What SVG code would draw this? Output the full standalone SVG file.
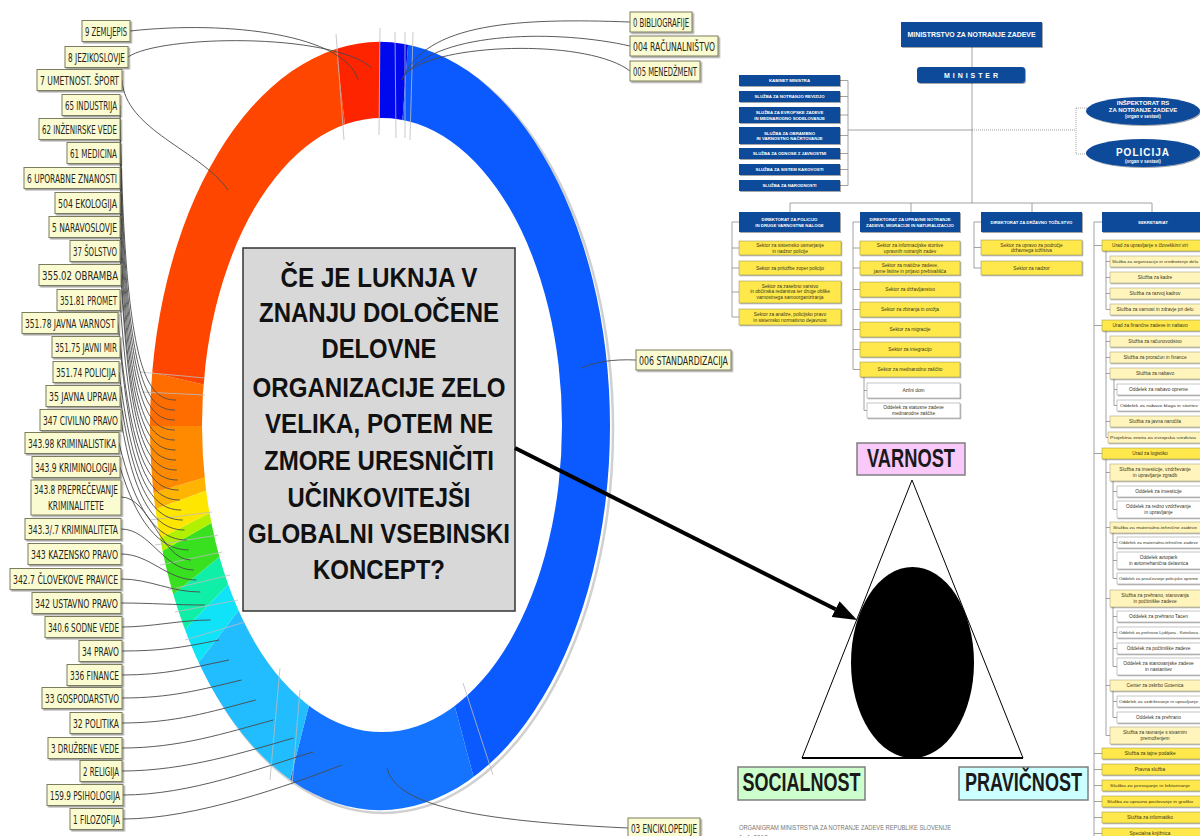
<svg xmlns="http://www.w3.org/2000/svg" width="1200" height="836" viewBox="0 0 1200 836">
<defs>
<style>
.lb rect{fill:#FBFBD2;stroke:#7C7C5E;stroke-width:1;filter:url(#sh)}
.lb text{font-family:"Liberation Sans Narrow","DejaVu Sans Condensed","Liberation Sans",sans-serif;font-size:13px;fill:#26261A}
.cn path{fill:none;stroke:#4A4A4A;stroke-width:0.9}
.cn path.lt{stroke:#BDBDBD;stroke-width:0.8}
.q text{font-family:"Liberation Sans",Arial,sans-serif;font-weight:bold;font-size:27px;fill:#111;text-anchor:middle}
.bb{fill:#0F4B9A;filter:url(#sh2)}
.bt{font-family:"Liberation Sans",Arial,sans-serif;font-weight:bold;font-size:4.3px;fill:#fff;text-anchor:middle}
.yb{fill:#FFE84C;stroke:#8F8A4E;stroke-width:0.5;filter:url(#sh2)}
.ly{fill:#FFF5BC;stroke:#9A9676;stroke-width:0.5;filter:url(#sh2)}
.wb{fill:#fff;stroke:#8A8A8A;stroke-width:0.5;filter:url(#sh2)}
.ot{font-family:"Liberation Sans",Arial,sans-serif;font-size:4.8px;fill:#3A3520;text-anchor:middle}
.ot.os{text-anchor:start}
.ot.sm{font-size:4.2px}
.ol{fill:none;stroke:#8C8C8C;stroke-width:0.8}
.dt{fill:none;stroke:#8C8C8C;stroke-width:0.8;stroke-dasharray:1 1}
.big{font-family:"Liberation Sans",Arial,sans-serif;font-weight:bold;font-size:25px;fill:#1A1A1A;text-anchor:middle}
.tag rect{stroke:#7F7F7F;stroke-width:1.5}
</style>
<filter id="sh" x="-10%" y="-20%" width="130%" height="160%"><feDropShadow dx="1.5" dy="1.5" stdDeviation="0.7" flood-color="#000" flood-opacity="0.35"/></filter>
<filter id="sh2" x="-10%" y="-20%" width="130%" height="160%"><feDropShadow dx="1" dy="1" stdDeviation="0.5" flood-color="#000" flood-opacity="0.35"/></filter>
<clipPath id="ringclip"><path clip-rule="evenodd" d="M150,426 A230,384 0 1,0 610,426 A230,384 0 1,0 150,426 Z M202,425 A180,307 0 1,0 562,425 A180,307 0 1,0 202,425 Z"/></clipPath>
<marker id="ah" markerWidth="6" markerHeight="4.4" refX="0" refY="2.2" orient="auto" markerUnits="strokeWidth"><path d="M0,0 L6,2.2 L0,4.4 Z" fill="#000"/></marker>
</defs>
<rect width="1200" height="836" fill="#fff"/>

<!-- ring -->
<g id="ring">
<ellipse cx="383" cy="429" rx="230" ry="384" fill="none" stroke="#D0D0D0" stroke-width="2.5"/>
<g clip-path="url(#ringclip)">
<polygon fill="#0008EE" points="380,426 380,-150 422,-145.7"/>
<polygon fill="#0A5AFF" points="380,426 422,-145.7 624,18.7 725,426 624,833.3 520.3,952.2"/>
<polygon fill="#1574FF" points="380,426 520.3,952.2 380,1002 245.2,956.2"/>
<polygon fill="#22BDFF" points="380,426 245.2,956.2 108.1,780.6"/>
<polygon fill="#10E2F8" points="380,426 108.1,780.6 87.4,731.2"/>
<polygon fill="#10EFA8" points="380,426 87.4,731.2 69.9,678.5"/>
<polygon fill="#38E020" points="380,426 69.9,678.5 53.8,613.5"/>
<polygon fill="#B0F000" points="380,426 53.8,613.5 50.1,594.4"/>
<polygon fill="#FFE600" points="380,426 50.1,594.4 43.2,550.6"/>
<polygon fill="#FFB400" points="380,426 43.2,550.6 40.2,526"/>
<polygon fill="#FF8A00" points="380,426 40.2,526 35,426"/>
<polygon fill="#FF6C00" points="380,426 35,426 38.4,345.8"/>
<polygon fill="#FF4600" points="380,426 38.4,345.8 136,18.7 314.2,-139.4"/>
<polygon fill="#FF2400" points="380,426 314.2,-139.4 380,-150"/>
</g>
</g>

<!-- connectors -->
<g id="connectors" class="cn">
<path class="lt" d="M336,34 L344,140"/>
<path class="lt" d="M380,28 L379,135"/>
<path class="lt" d="M395,32 L396,138"/>
<path class="lt" d="M405,32 L405,138"/>
<path class="lt" d="M413,32 L410,140"/>
<path class="lt" d="M280,668 L270,780"/>
<path class="lt" d="M300,690 L292,785"/>
<path class="lt" d="M463,683 L493,775"/>
<path class="lt" d="M140,372 L205,378"/>
<path class="lt" d="M142,392 L205,395"/>
<path class="lt" d="M150,520 L212,512"/>
<path class="lt" d="M155,545 L218,535"/>
<path class="lt" d="M160,565 L222,552"/>
<path class="lt" d="M168,590 L230,575"/>
<path class="lt" d="M175,612 L238,600"/>
<path class="lt" d="M185,640 L245,622"/>
<path d="M130,31 C230,20 345,35 358,80"/>
<path d="M128,57 C160,35 330,32 372,68"/>
<path d="M122,80 C125,130 200,150 228,190"/>
<path d="M120,105 C124,370 146,400 176,400"/>
<path d="M120,129 C124.8,380 145,410 175,410"/>
<path d="M120,153 C125.6,390 145,420 175,420"/>
<path d="M120,178 C126.4,400 145,430 175,430"/>
<path d="M120,203 C127.2,410 145,440 175,440"/>
<path d="M120,227 C128,420 145.5,450 175.5,450"/>
<path d="M120,251 C128.8,430 146,460 176,460"/>
<path d="M121,275 C129.6,440 146.7,470 176.7,470"/>
<path d="M120,300 C130.4,450 147.6,480 177.6,480"/>
<path d="M118,323 C131.2,460 148.6,490 178.6,490"/>
<path d="M120,347 C132,470 149.8,500 179.8,500"/>
<path d="M119,372 C132.8,480 151.2,510 181.2,510"/>
<path d="M120,396 C133.6,490 152.8,520 182.8,520"/>
<path d="M121,420 C134.4,500 154.5,530 184.5,530"/>
<path d="M119,443 C135.2,510 156.5,540 186.5,540"/>
<path d="M120,467 C136,520 158.7,550 188.7,550"/>
<path d="M121,497 C150,497 161,560 191,560"/>
<path d="M121,529 C150,529 163.7,570 193.7,570"/>
<path d="M121,554 C150,554 166.5,580 196.5,580"/>
<path d="M121,579 C150,579 170.3,592 200.3,592"/>
<path d="M121,603 C150,603 174.8,605 204.8,605"/>
<path d="M122,627 C151,627 180.6,620 210.6,620"/>
<path d="M122,651 C160,651 180,648 219,640"/>
<path d="M122,675 C165,675 190,668 229,660"/>
<path d="M122,698 C170,698 200,690 241.5,680"/>
<path d="M122,723 C175,723 210,712 255.8,700"/>
<path d="M122,748 C180,748 225,733 273.3,720"/>
<path d="M122,771 C185,771 245,752 293.5,738"/>
<path d="M123,795 C190,795 260,768 313,752"/>
<path d="M123,819 C195,819 290,785 342,765"/>
<path d="M630,22 C520,18 425,22 402,80"/>
<path d="M630,46 C560,30 440,30 405,75"/>
<path d="M630,71 C590,40 450,42 410,70"/>
<path d="M636,360 C612,359 595,362 582,368"/>
<path d="M387,768 C395,800 450,820 628,828"/>
</g>

<!-- left labels -->
<g id="lab-0" class="lb"><rect x="82" y="20.5" width="48" height="21"/><text x="85" y="35.5" textLength="42" lengthAdjust="spacingAndGlyphs">9 ZEMLJEPIS</text></g>
<g id="lab-1" class="lb"><rect x="65" y="46.5" width="63" height="21"/><text x="68" y="61.5" textLength="57" lengthAdjust="spacingAndGlyphs">8 JEZIKOSLOVJE</text></g>
<g id="lab-2" class="lb"><rect x="37" y="69.5" width="85" height="21"/><text x="40" y="84.5" textLength="79" lengthAdjust="spacingAndGlyphs">7 UMETNOST. ŠPORT</text></g>
<g id="lab-3" class="lb"><rect x="62" y="94.5" width="58" height="21"/><text x="65" y="109.5" textLength="52" lengthAdjust="spacingAndGlyphs">65 INDUSTRIJA</text></g>
<g id="lab-4" class="lb"><rect x="39" y="118.5" width="81" height="21"/><text x="42" y="133.5" textLength="75" lengthAdjust="spacingAndGlyphs">62 INŽENIRSKE VEDE</text></g>
<g id="lab-5" class="lb"><rect x="67" y="142.5" width="53" height="21"/><text x="70" y="157.5" textLength="47" lengthAdjust="spacingAndGlyphs">61 MEDICINA</text></g>
<g id="lab-6" class="lb"><rect x="24" y="167.5" width="96" height="21"/><text x="27" y="182.5" textLength="90" lengthAdjust="spacingAndGlyphs">6 UPORABNE ZNANOSTI</text></g>
<g id="lab-7" class="lb"><rect x="55" y="192.5" width="65" height="21"/><text x="58" y="207.5" textLength="59" lengthAdjust="spacingAndGlyphs">504 EKOLOGIJA</text></g>
<g id="lab-8" class="lb"><rect x="49" y="216.5" width="71" height="21"/><text x="52" y="231.5" textLength="65" lengthAdjust="spacingAndGlyphs">5 NARAVOSLOVJE</text></g>
<g id="lab-9" class="lb"><rect x="70" y="240.5" width="50" height="21"/><text x="73" y="255.5" textLength="44" lengthAdjust="spacingAndGlyphs">37 ŠOLSTVO</text></g>
<g id="lab-10" class="lb"><rect x="39" y="264.5" width="82" height="21"/><text x="42" y="279.5" textLength="76" lengthAdjust="spacingAndGlyphs">355.02 OBRAMBA</text></g>
<g id="lab-11" class="lb"><rect x="57" y="289.5" width="63" height="21"/><text x="60" y="304.5" textLength="57" lengthAdjust="spacingAndGlyphs">351.81 PROMET</text></g>
<g id="lab-12" class="lb"><rect x="22" y="312.5" width="96" height="21"/><text x="25" y="327.5" textLength="90" lengthAdjust="spacingAndGlyphs">351.78 JAVNA VARNOST</text></g>
<g id="lab-13" class="lb"><rect x="52" y="336.5" width="68" height="21"/><text x="55" y="351.5" textLength="62" lengthAdjust="spacingAndGlyphs">351.75 JAVNI MIR</text></g>
<g id="lab-14" class="lb"><rect x="53" y="361.5" width="66" height="21"/><text x="56" y="376.5" textLength="60" lengthAdjust="spacingAndGlyphs">351.74 POLICIJA</text></g>
<g id="lab-15" class="lb"><rect x="46" y="385.5" width="74" height="21"/><text x="49" y="400.5" textLength="68" lengthAdjust="spacingAndGlyphs">35 JAVNA UPRAVA</text></g>
<g id="lab-16" class="lb"><rect x="40" y="409.5" width="81" height="21"/><text x="43" y="424.5" textLength="75" lengthAdjust="spacingAndGlyphs">347 CIVILNO PRAVO</text></g>
<g id="lab-17" class="lb"><rect x="25" y="432.5" width="94" height="21"/><text x="28" y="447.5" textLength="88" lengthAdjust="spacingAndGlyphs">343.98 KRIMINALISTIKA</text></g>
<g id="lab-18" class="lb"><rect x="32" y="456.5" width="88" height="21"/><text x="35" y="471.5" textLength="82" lengthAdjust="spacingAndGlyphs">343.9 KRIMINOLOGIJA</text></g>
<g id="lab-19" class="lb"><rect x="31" y="480" width="90" height="35"/><text x="76" y="494" text-anchor="middle" textLength="84" lengthAdjust="spacingAndGlyphs">343.8 PREPREČEVANJE</text><text x="76" y="510" text-anchor="middle" textLength="56" lengthAdjust="spacingAndGlyphs">KRIMINALITETE</text></g>
<g id="lab-20" class="lb"><rect x="25" y="518.5" width="96" height="21"/><text x="28" y="533.5" textLength="90" lengthAdjust="spacingAndGlyphs">343.3/.7 KRIMINALITETA</text></g>
<g id="lab-21" class="lb"><rect x="28" y="543.5" width="93" height="21"/><text x="31" y="558.5" textLength="87" lengthAdjust="spacingAndGlyphs">343 KAZENSKO PRAVO</text></g>
<g id="lab-22" class="lb"><rect x="10" y="568.5" width="111" height="21"/><text x="13" y="583.5" textLength="105" lengthAdjust="spacingAndGlyphs">342.7 ČLOVEKOVE PRAVICE</text></g>
<g id="lab-23" class="lb"><rect x="32" y="592.5" width="89" height="21"/><text x="35" y="607.5" textLength="83" lengthAdjust="spacingAndGlyphs">342 USTAVNO PRAVO</text></g>
<g id="lab-24" class="lb"><rect x="45" y="616.5" width="77" height="21"/><text x="48" y="631.5" textLength="71" lengthAdjust="spacingAndGlyphs">340.6 SODNE VEDE</text></g>
<g id="lab-25" class="lb"><rect x="79" y="640.5" width="43" height="21"/><text x="82" y="655.5" textLength="37" lengthAdjust="spacingAndGlyphs">34 PRAVO</text></g>
<g id="lab-26" class="lb"><rect x="67" y="664.5" width="55" height="21"/><text x="70" y="679.5" textLength="49" lengthAdjust="spacingAndGlyphs">336 FINANCE</text></g>
<g id="lab-27" class="lb"><rect x="42" y="687.5" width="80" height="21"/><text x="45" y="702.5" textLength="74" lengthAdjust="spacingAndGlyphs">33 GOSPODARSTVO</text></g>
<g id="lab-28" class="lb"><rect x="70" y="712.5" width="52" height="21"/><text x="73" y="727.5" textLength="46" lengthAdjust="spacingAndGlyphs">32 POLITIKA</text></g>
<g id="lab-29" class="lb"><rect x="48" y="737.5" width="74" height="21"/><text x="51" y="752.5" textLength="68" lengthAdjust="spacingAndGlyphs">3 DRUŽBENE VEDE</text></g>
<g id="lab-30" class="lb"><rect x="80" y="760.5" width="42" height="21"/><text x="83" y="775.5" textLength="36" lengthAdjust="spacingAndGlyphs">2 RELIGIJA</text></g>
<g id="lab-31" class="lb"><rect x="47" y="784.5" width="76" height="21"/><text x="50" y="799.5" textLength="70" lengthAdjust="spacingAndGlyphs">159.9 PSIHOLOGIJA</text></g>
<g id="lab-32" class="lb"><rect x="70" y="808.5" width="53" height="21"/><text x="73" y="823.5" textLength="47" lengthAdjust="spacingAndGlyphs">1 FILOZOFIJA</text></g>

<!-- right labels -->
<g id="lab-r0" class="lb"><rect x="630" y="12" width="62" height="20"/><text x="633" y="26.5" textLength="56" lengthAdjust="spacingAndGlyphs">0 BIBLIOGRAFIJE</text></g>
<g id="lab-r1" class="lb"><rect x="630" y="36" width="88" height="20"/><text x="633" y="50.5" textLength="82" lengthAdjust="spacingAndGlyphs">004 RAČUNALNIŠTVO</text></g>
<g id="lab-r2" class="lb"><rect x="630" y="61" width="70" height="20"/><text x="633" y="75.5" textLength="64" lengthAdjust="spacingAndGlyphs">005 MENEDŽMENT</text></g>
<g id="lab-r3" class="lb"><rect x="636" y="350" width="95" height="20"/><text x="639" y="364.5" textLength="89" lengthAdjust="spacingAndGlyphs">006 STANDARDIZACIJA</text></g>
<g id="lab-r4" class="lb"><rect x="628" y="818" width="72" height="20"/><text x="631" y="832.5" textLength="66" lengthAdjust="spacingAndGlyphs">03 ENCIKLOPEDIJE</text></g>

<!-- question box -->
<g id="question" class="q">
<rect x="243" y="248" width="272" height="363" fill="#D8D8D8" stroke="#333" stroke-width="1.5"/>
<text x="379" y="287" textLength="197" lengthAdjust="spacingAndGlyphs">ČE JE LUKNJA V</text>
<text x="379" y="322" textLength="240" lengthAdjust="spacingAndGlyphs">ZNANJU DOLOČENE</text>
<text x="379" y="358" textLength="115" lengthAdjust="spacingAndGlyphs">DELOVNE</text>
<text x="379" y="397" textLength="253" lengthAdjust="spacingAndGlyphs">ORGANIZACIJE ZELO</text>
<text x="379" y="433" textLength="228" lengthAdjust="spacingAndGlyphs">VELIKA, POTEM NE</text>
<text x="379" y="470" textLength="230" lengthAdjust="spacingAndGlyphs">ZMORE URESNIČITI</text>
<text x="379" y="507" textLength="183" lengthAdjust="spacingAndGlyphs">UČINKOVITEJŠI</text>
<text x="379" y="543" textLength="262" lengthAdjust="spacingAndGlyphs">GLOBALNI VSEBINSKI</text>
<text x="379" y="579" textLength="132" lengthAdjust="spacingAndGlyphs">KONCEPT?</text>
</g>

<!-- org chart connectors -->
<g id="org-connectors">
<path class="ol" d="M972,47 V67 M972,83 V203 M790,203 H1152 M790,203 V212 M911,203 V212 M1032,203 V212 M1152,203 V212"/>
<path class="ol" d="M848,80.5 V185.5 M840,80.5 H848 M840,96.5 H848 M840,115 H848 M840,135.5 H848 M840,153.5 H848 M840,169.5 H848 M840,185.5 H848 M848,130 H972"/>
<path class="dt" d="M972,130 H1076 M1076,108 V154 M1076,108 H1088 M1076,154 H1088"/>
<path class="ol" d="M732,222 V317 M732,222 H739 M732,248 H739 M732,268 H739 M732,292 H739 M732,317 H739"/>
<path class="ol" d="M853,222 V369.5 M853,222 H860 M853,248 H860 M853,268 H860 M853,289.5 H860 M853,309.5 H860 M853,329.5 H860 M853,349.5 H860 M853,369.5 H860 M864,377 V410.5 M864,390.5 H867 M864,410.5 H867"/>
<path class="ol" d="M974,222 V268 M974,222 H981 M974,247.5 H981 M974,268 H981"/>
<path class="ol" d="M1094,222 V836 M1094,222 H1102 M1094,245.5 H1102 M1094,325.5 H1102 M1094,453.5 H1102 M1094,753.5 H1102 M1094,769.5 H1102 M1094,785.5 H1102 M1094,801.5 H1102 M1094,817.5 H1102 M1094,833.5 H1102"/>
<path class="ol" d="M1106,251 V309.5 M1106,261.5 H1110 M1106,277.5 H1110 M1106,293.5 H1110 M1106,309.5 H1110"/>
<path class="ol" d="M1106,331 V437.5 M1106,341.5 H1110 M1106,357.5 H1110 M1106,373.5 H1110 M1106,421.5 H1110 M1106,437.5 H1108 M1114,379 V405.5 M1114,389.5 H1117 M1114,405.5 H1117"/>
<path class="ol" d="M1106,459 V735.5 M1106,472.5 H1110 M1106,527.5 H1110 M1106,598.5 H1110 M1106,685.5 H1110 M1106,735.5 H1110 M1113,481 V509.5 M1113,491.5 H1117 M1113,509.5 H1117 M1113,533 V578.5 M1113,542.5 H1117 M1113,560.5 H1117 M1113,578.5 H1117 M1113,607 V666.5 M1113,616.5 H1117 M1113,632.5 H1117 M1113,648.5 H1117 M1113,666.5 H1117 M1113,691 V717.5 M1113,701.5 H1117 M1113,717.5 H1117"/>
</g>

<!-- org top -->
<g id="org-ministrstvo"><rect class="bb" x="901" y="22" width="141" height="25"/><text class="bt" x="971.5" y="37" style="font-size:6.5px" textLength="128" lengthAdjust="spacingAndGlyphs">MINISTRSTVO ZA NOTRANJE ZADEVE</text></g>
<g id="org-minister"><rect class="bb" x="917" y="67" width="108" height="16" rx="3"/><text class="bt" x="971" y="78" style="font-size:7px" textLength="54" lengthAdjust="spacing">MINISTER</text></g>
<g id="org-kabinet"><rect class="bb" x="739" y="75" width="101" height="11"/><text class="bt" x="789.5" y="82">KABINET MINISTRA</text></g>
<g id="org-revizija"><rect class="bb" x="739" y="91" width="101" height="11"/><text class="bt" x="789.5" y="98">SLUŽBA ZA NOTRANJO REVIZIJO</text></g>
<g id="org-evropske"><rect class="bb" x="739" y="107" width="101" height="16"/><text class="bt" x="789.5" y="114">SLUŽBA ZA EVROPSKE ZADEVE</text><text class="bt" x="789.5" y="119.5">IN MEDNARODNO SODELOVANJE</text></g>
<g id="org-obrambno"><rect class="bb" x="739" y="127" width="101" height="17"/><text class="bt" x="789.5" y="134.5">SLUŽBA ZA OBRAMBNO</text><text class="bt" x="789.5" y="140">IN VARNOSTNO NAČRTOVANJE</text></g>
<g id="org-odnosi"><rect class="bb" x="739" y="148" width="101" height="11"/><text class="bt" x="789.5" y="155">SLUŽBA ZA ODNOSE Z JAVNOSTMI</text></g>
<g id="org-kakovost"><rect class="bb" x="739" y="164" width="101" height="11"/><text class="bt" x="789.5" y="171">SLUŽBA ZA SISTEM KAKOVOSTI</text></g>
<g id="org-narodnosti"><rect class="bb" x="739" y="180" width="101" height="11"/><text class="bt" x="789.5" y="187">SLUŽBA ZA NARODNOSTI</text></g>
<g id="org-inspektorat"><ellipse class="bb" cx="1143" cy="111" rx="57" ry="14"/><text class="bt" x="1143" y="105" style="font-size:6px">INŠPEKTORAT RS</text><text class="bt" x="1143" y="111.5" style="font-size:6px">ZA NOTRANJE ZADEVE</text><text class="bt" x="1143" y="117.5" style="font-size:4.5px">(organ v sestavi)</text></g>
<g id="org-policija"><ellipse class="bb" cx="1143" cy="153" rx="57" ry="14"/><text class="bt" x="1143" y="155.5" style="font-size:10px;letter-spacing:1px">POLICIJA</text><text class="bt" x="1143" y="163" style="font-size:4.5px">(organ v sestavi)</text></g>

<!-- directorates -->
<g id="org-d1"><rect class="bb" x="739" y="212" width="101" height="20"/><text class="bt" x="789.5" y="220.5">DIREKTORAT ZA POLICIJO</text><text class="bt" x="789.5" y="226.5">IN DRUGE VARNOSTNE NALOGE</text></g>
<g id="org-d2"><rect class="bb" x="860" y="212" width="100" height="20"/><text class="bt" x="910" y="220.5">DIREKTORAT ZA UPRAVNE NOTRANJE</text><text class="bt" x="910" y="226.5">ZADEVE, MIGRACIJE IN NATURALIZACIJO</text></g>
<g id="org-d3"><rect class="bb" x="981" y="212" width="101" height="20"/><text class="bt" x="1031.5" y="223.5">DIREKTORAT ZA DRŽAVNO TOŽILSTVO</text></g>
<g id="org-sekretariat"><rect class="bb" x="1102" y="212" width="102" height="20"/><text class="bt" x="1153" y="223.5">SEKRETARIAT</text></g>

<!-- column 1 -->
<g id="org-c1-1"><rect class="yb" x="739" y="241" width="102" height="14"/><text class="ot" x="790" y="247">Sektor za sistemsko usmerjanje</text><text class="ot" x="790" y="252.5">in nadzor policije</text></g>
<g id="org-c1-2"><rect class="yb" x="739" y="261" width="102" height="14"/><text class="ot" x="790" y="269.5">Sektor za pritožbe zoper policijo</text></g>
<g id="org-c1-3"><rect class="yb" x="739" y="281" width="102" height="22"/><text class="ot" x="790" y="287.5">Sektor za zasebno varstvo</text><text class="ot" x="790" y="293">in občinska redarstva ter druge oblike</text><text class="ot" x="790" y="298.5">varnostnega samoorganiziranja</text></g>
<g id="org-c1-4"><rect class="yb" x="739" y="309" width="102" height="16"/><text class="ot" x="790" y="316">Sektor za analize, policijsko pravo</text><text class="ot" x="790" y="321.5">in sistemsko normativno dejavnost</text></g>

<!-- column 2 -->
<g id="org-c2-1"><rect class="yb" x="860" y="241" width="100" height="14"/><text class="ot" x="910" y="247">Sektor za informacijske storitve</text><text class="ot" x="910" y="252.5">upravnih notranjih zadev</text></g>
<g id="org-c2-2"><rect class="yb" x="860" y="261" width="100" height="14"/><text class="ot" x="910" y="267">Sektor za matične zadeve,</text><text class="ot" x="910" y="272.5">javne listine in prijavo prebivališča</text></g>
<g id="org-c2-3"><rect class="yb" x="860" y="282" width="100" height="15"/><text class="ot" x="910" y="291">Sektor za državljanstvo</text></g>
<g id="org-c2-4"><rect class="yb" x="860" y="302" width="100" height="15"/><text class="ot" x="910" y="311">Sektor za zbiranja in orožja</text></g>
<g id="org-c2-5"><rect class="yb" x="860" y="322" width="100" height="15"/><text class="ot" x="910" y="331">Sektor za migracije</text></g>
<g id="org-c2-6"><rect class="yb" x="860" y="342" width="100" height="15"/><text class="ot" x="910" y="351">Sektor za integracijo</text></g>
<g id="org-c2-7"><rect class="yb" x="860" y="362" width="100" height="15"/><text class="ot" x="910" y="371">Sektor za mednarodno zaščito</text></g>
<g id="org-c2-8"><rect class="wb" x="867" y="383" width="93" height="15"/><text class="ot" x="913.5" y="392">Azilni dom</text></g>
<g id="org-c2-9"><rect class="wb" x="867" y="403" width="93" height="15"/><text class="ot" x="913.5" y="409">Oddelek za statusne zadeve</text><text class="ot" x="913.5" y="414.5">mednarodne zaščite</text></g>

<!-- column 3 -->
<g id="org-c3-1"><rect class="yb" x="981" y="240" width="101" height="15"/><text class="ot" x="1031.5" y="246.5">Sektor za upravo za področje</text><text class="ot" x="1031.5" y="252">državnega tožilstva</text></g>
<g id="org-c3-2"><rect class="yb" x="981" y="261" width="101" height="14"/><text class="ot" x="1031.5" y="269.5">Sektor za nadzor</text></g>

<!-- sekretariat column -->
<g id="org-s1"><rect class="yb" x="1102" y="240" width="102" height="11"/><text class="ot" x="1150" y="247.3">Urad za upravljanje s človeškimi viri</text></g>
<g id="org-s2"><rect class="ly" x="1110" y="256" width="94" height="11"/><text class="ot os sm" x="1112" y="263.3" textLength="86" lengthAdjust="spacingAndGlyphs">Služba za organizacijo in vrednotenje dela</text></g>
<g id="org-s3"><rect class="ly" x="1110" y="272" width="94" height="11"/><text class="ot" x="1155" y="279.3">Služba za kadre</text></g>
<g id="org-s4"><rect class="ly" x="1110" y="288" width="94" height="11"/><text class="ot" x="1155" y="295.3">Služba za razvoj kadrov</text></g>
<g id="org-s5"><rect class="ly" x="1110" y="304" width="94" height="11"/><text class="ot" x="1155" y="311.3">Služba za varnost in zdravje pri delu</text></g>
<g id="org-s6"><rect class="yb" x="1102" y="320" width="102" height="11"/><text class="ot" x="1150" y="327.3">Urad za finančne zadeve in nabavo</text></g>
<g id="org-s7"><rect class="ly" x="1110" y="336" width="94" height="11"/><text class="ot" x="1155" y="343.3">Služba za računovodstvo</text></g>
<g id="org-s8"><rect class="ly" x="1110" y="352" width="94" height="11"/><text class="ot" x="1155" y="359.3">Služba za proračun in finance</text></g>
<g id="org-s9"><rect class="ly" x="1110" y="368" width="94" height="11"/><text class="ot" x="1155" y="375.3">Služba za nabavo</text></g>
<g id="org-s10"><rect class="wb" x="1117" y="384" width="87" height="11"/><text class="ot" x="1158.5" y="391.3">Oddelek za nabavo opreme</text></g>
<g id="org-s11"><rect class="wb" x="1117" y="400" width="87" height="11"/><text class="ot os sm" x="1120" y="407.3" textLength="78" lengthAdjust="spacingAndGlyphs">Oddelek za nabavo blaga in storitev</text></g>
<g id="org-s12"><rect class="ly" x="1110" y="416" width="94" height="11"/><text class="ot" x="1155" y="423.3">Služba za javna naročila</text></g>
<g id="org-s13"><rect class="ly" x="1108" y="432" width="96" height="11"/><text class="ot sm" x="1153" y="439.3" textLength="86" lengthAdjust="spacingAndGlyphs">Projektna enota za evropska sredstva</text></g>
<g id="org-s14"><rect class="yb" x="1102" y="448" width="102" height="11"/><text class="ot" x="1150" y="455.3">Urad za logistiko</text></g>
<g id="org-s15"><rect class="ly" x="1110" y="464" width="94" height="17"/><text class="ot" x="1155" y="471">Služba za investicije, vzdrževanje</text><text class="ot" x="1155" y="477">in upravljanje zgradb</text></g>
<g id="org-s16"><rect class="wb" x="1117" y="486" width="87" height="11"/><text class="ot" x="1158.5" y="493.3">Oddelek za investicije</text></g>
<g id="org-s17"><rect class="wb" x="1117" y="501" width="87" height="17"/><text class="ot" x="1158.5" y="508">Oddelek za redno vzdrževanje</text><text class="ot" x="1158.5" y="514">in upravljanje</text></g>
<g id="org-s18"><rect class="ly" x="1110" y="522" width="94" height="11"/><text class="ot sm" x="1155" y="529.3" textLength="84" lengthAdjust="spacingAndGlyphs">Služba za materialno-tehnične zadeve</text></g>
<g id="org-s19"><rect class="wb" x="1117" y="537" width="87" height="11"/><text class="ot os sm" x="1119" y="544.3" textLength="79" lengthAdjust="spacingAndGlyphs">Oddelek za materialno-tehnične zadeve</text></g>
<g id="org-s20"><rect class="wb" x="1117" y="552" width="87" height="17"/><text class="ot" x="1158.5" y="559">Oddelek avtopark</text><text class="ot" x="1158.5" y="565">in avtomehanična delavnica</text></g>
<g id="org-s21"><rect class="wb" x="1117" y="573" width="87" height="11"/><text class="ot os sm" x="1119" y="580.3" textLength="79" lengthAdjust="spacingAndGlyphs">Oddelek za proučevanje policijske opreme</text></g>
<g id="org-s22"><rect class="ly" x="1110" y="590" width="94" height="17"/><text class="ot" x="1155" y="597">Služba za prehrano, stanovanja</text><text class="ot" x="1155" y="603">in počitniške zadeve</text></g>
<g id="org-s23"><rect class="wb" x="1117" y="611" width="87" height="11"/><text class="ot" x="1158.5" y="618.3">Oddelek za prehrano Tacen</text></g>
<g id="org-s24"><rect class="wb" x="1117" y="627" width="87" height="11"/><text class="ot os sm" x="1119" y="634.3" textLength="79" lengthAdjust="spacingAndGlyphs">Oddelek za prehrano Ljubljana - Kotnikova</text></g>
<g id="org-s25"><rect class="wb" x="1117" y="643" width="87" height="11"/><text class="ot" x="1158.5" y="650.3">Oddelek za počitniške zadeve</text></g>
<g id="org-s26"><rect class="wb" x="1117" y="658" width="87" height="17"/><text class="ot" x="1158.5" y="665">Oddelek za stanovanjske zadeve</text><text class="ot" x="1158.5" y="671">in nastanitev</text></g>
<g id="org-s27"><rect class="ly" x="1110" y="680" width="94" height="11"/><text class="ot" x="1155" y="687.3">Center za oskrbo Gotenica</text></g>
<g id="org-s28"><rect class="wb" x="1117" y="696" width="87" height="11"/><text class="ot os sm" x="1119" y="703.3" textLength="79" lengthAdjust="spacingAndGlyphs">Oddelek za vzdrževanje in upravljanje</text></g>
<g id="org-s29"><rect class="wb" x="1117" y="712" width="87" height="11"/><text class="ot" x="1158.5" y="719.3">Oddelek za prehrano</text></g>
<g id="org-s30"><rect class="ly" x="1110" y="727" width="94" height="17"/><text class="ot" x="1155" y="734">Služba za ravnanje s stvarnim</text><text class="ot" x="1155" y="740">premoženjem</text></g>
<g id="org-s31"><rect class="yb" x="1102" y="748" width="102" height="11"/><text class="ot" x="1150" y="755.3">Služba za tajne podatke</text></g>
<g id="org-s32"><rect class="yb" x="1102" y="764" width="102" height="11"/><text class="ot" x="1150" y="771.3">Pravna služba</text></g>
<g id="org-s33"><rect class="yb" x="1102" y="780" width="102" height="11"/><text class="ot sm" x="1150" y="787.3" textLength="80" lengthAdjust="spacingAndGlyphs">Služba za prevajanje in lektoriranje</text></g>
<g id="org-s34"><rect class="yb" x="1102" y="796" width="102" height="11"/><text class="ot sm" x="1150" y="803.3" textLength="86" lengthAdjust="spacingAndGlyphs">Služba za upravno poslovanje in grafiko</text></g>
<g id="org-s35"><rect class="yb" x="1102" y="812" width="102" height="11"/><text class="ot" x="1150" y="819.3">Služba za informatiko</text></g>
<g id="org-s36"><rect class="yb" x="1102" y="828" width="102" height="11"/><text class="ot" x="1150" y="835.3">Specialna knjižnica</text></g>

<!-- triangle -->
<g id="triangle">
<polygon points="912,480 802,758 1023,758" fill="none" stroke="#000" stroke-width="1"/>
<line x1="802" y1="758" x2="1023" y2="758" stroke="#000" stroke-width="2"/>
<ellipse cx="912.5" cy="662.5" rx="61.5" ry="95.5" fill="#000"/>
</g>
<g id="tag-varnost" class="tag"><rect x="857" y="443" width="108" height="32" fill="#F9C9F9"/><text class="big" x="911" y="467" textLength="88" lengthAdjust="spacingAndGlyphs">VARNOST</text></g>
<g id="tag-socialnost" class="tag"><rect x="738" y="767" width="127" height="33" fill="#CCFFCC"/><text class="big" x="801.5" y="791" textLength="118" lengthAdjust="spacingAndGlyphs">SOCIALNOST</text></g>
<g id="tag-pravicnost" class="tag"><rect x="959" y="767" width="129" height="33" fill="#CCFFFF"/><text class="big" x="1023.5" y="791" textLength="117" lengthAdjust="spacingAndGlyphs">PRAVIČNOST</text></g>

<!-- arrow -->
<g id="arrow"><path d="M515,448 L835.6,609.2" fill="none" stroke="#000" stroke-width="4" marker-end="url(#ah)"/></g>

<!-- footer -->
<g id="footer" font-family="Liberation Sans, Arial, sans-serif" fill="#777">
<text x="739" y="830" font-size="6.5" textLength="212" lengthAdjust="spacingAndGlyphs">ORGANIGRAM MINISTRSTVA ZA NOTRANJE ZADEVE REPUBLIKE SLOVENIJE</text>
<text x="739" y="840" font-size="6.5">1. 4. 2012</text>
</g>
</svg>
